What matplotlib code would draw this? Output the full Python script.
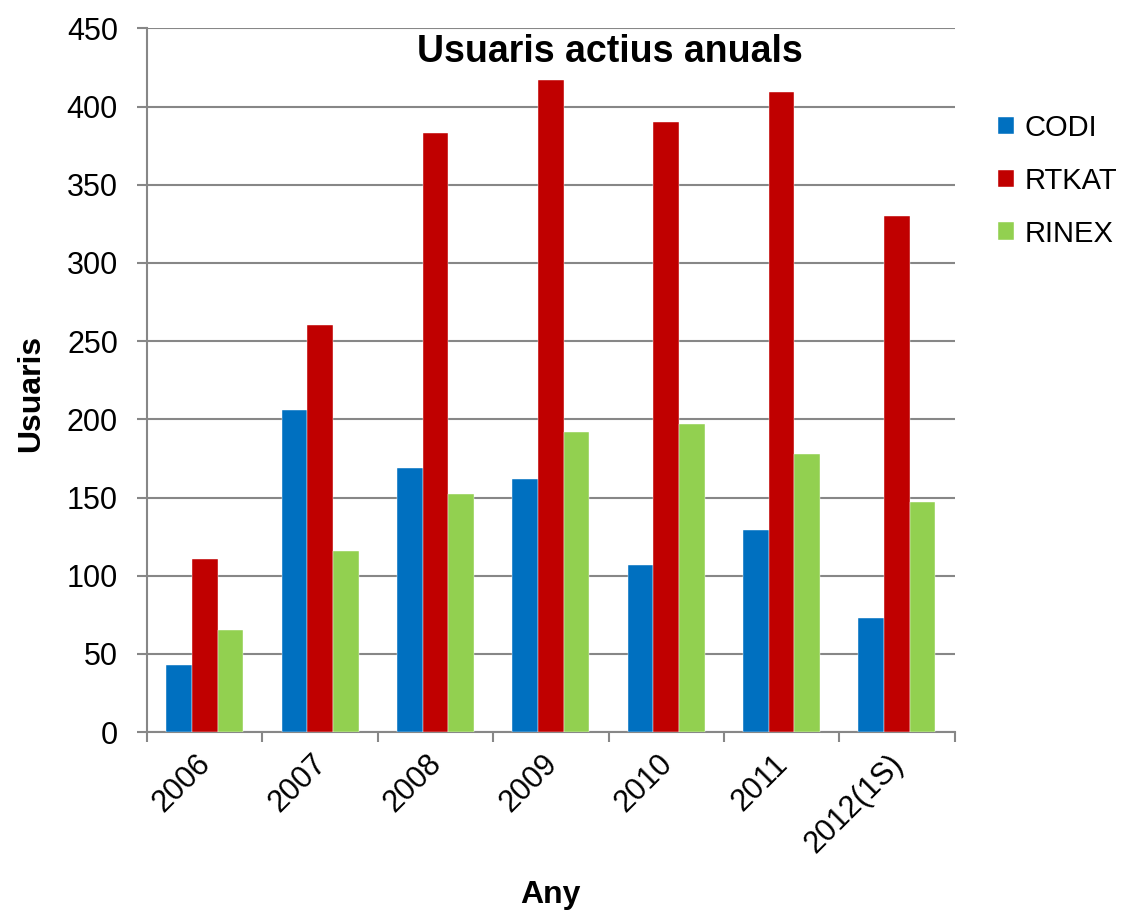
import numpy as np
import matplotlib
matplotlib.use("Agg")
import matplotlib.pyplot as plt
from matplotlib.transforms import ScaledTranslation

plt.rcParams['font.family'] = ['Liberation Sans', 'DejaVu Sans']

years = ['2006', '2007', '2008', '2009', '2010', '2011', '2012(1S)']
codi = [43, 206, 169, 162, 107, 129, 73]
rtkat = [111, 260, 383, 417, 390, 409, 330]
rinex = [65, 116, 152, 192, 197, 178, 147]

series = [('CODI', codi, '#0070C0'),
          ('RTKAT', rtkat, '#C00000'),
          ('RINEX', rinex, '#92D050')]

fig = plt.figure(figsize=(11.23, 9.14), dpi=100)
ax = fig.add_axes([0.131, 0.199, 0.719, 0.770])

x = np.arange(len(years))
w = 0.222
for i, (name, vals, col) in enumerate(series):
    ax.bar(x + (i - 1) * w, vals, w, color=col, label=name, zorder=3,
           edgecolor='white', linewidth=0.3)

ax.set_xlim(-0.5, len(years) - 0.5)
ax.set_ylim(0, 450)
ax.set_yticks(np.arange(0, 451, 50))
ax.yaxis.grid(True, color='#878787', linewidth=1.5, zorder=0)

# category ticks on the boundaries, labels in the middle
ax.set_xticks(np.arange(len(years) + 1) - 0.5)
ax.set_xticklabels([])
ax.set_xticks(x, minor=True)
ax.set_xticklabels(years, minor=True, rotation=45, ha='right',
                   rotation_mode='anchor', fontsize=22)
ax.tick_params(axis='x', which='minor', length=0, pad=12)
ax.tick_params(axis='x', which='major', length=7, width=1.5, color='#878787')
ax.tick_params(axis='y', length=7, width=1.5, color='#878787', labelsize=22, pad=14)

# nudge rotated labels a bit to the left
shift = ScaledTranslation(-9 / 100, 0, fig.dpi_scale_trans)
for lab in ax.get_xticklabels(minor=True):
    lab.set_transform(lab.get_transform() + shift)

for s in ['top', 'right']:
    ax.spines[s].set_visible(False)
for s in ['left', 'bottom']:
    ax.spines[s].set_color('#878787')
    ax.spines[s].set_linewidth(1.5)

ax.set_xlabel('Any', fontsize=23, fontweight='bold', labelpad=15)
ax.set_ylabel('Usuaris', fontsize=23, fontweight='bold')
ax.yaxis.set_label_coords(-0.125, 0.4815)

fig.text(610 / 1123, 1 - 52 / 914, 'Usuaris actius anuals', fontsize=27,
         fontweight='bold', ha='center', va='center')

fig.legend(loc='upper left', bbox_to_anchor=(998 / 1123, 1 - 114 / 914),
           frameon=False, fontsize=21, handlelength=0.55, handleheight=0.55,
           handletextpad=0.35, labelspacing=0.85, borderaxespad=0,
           borderpad=0)

fig.savefig('out.png', dpi=100)
